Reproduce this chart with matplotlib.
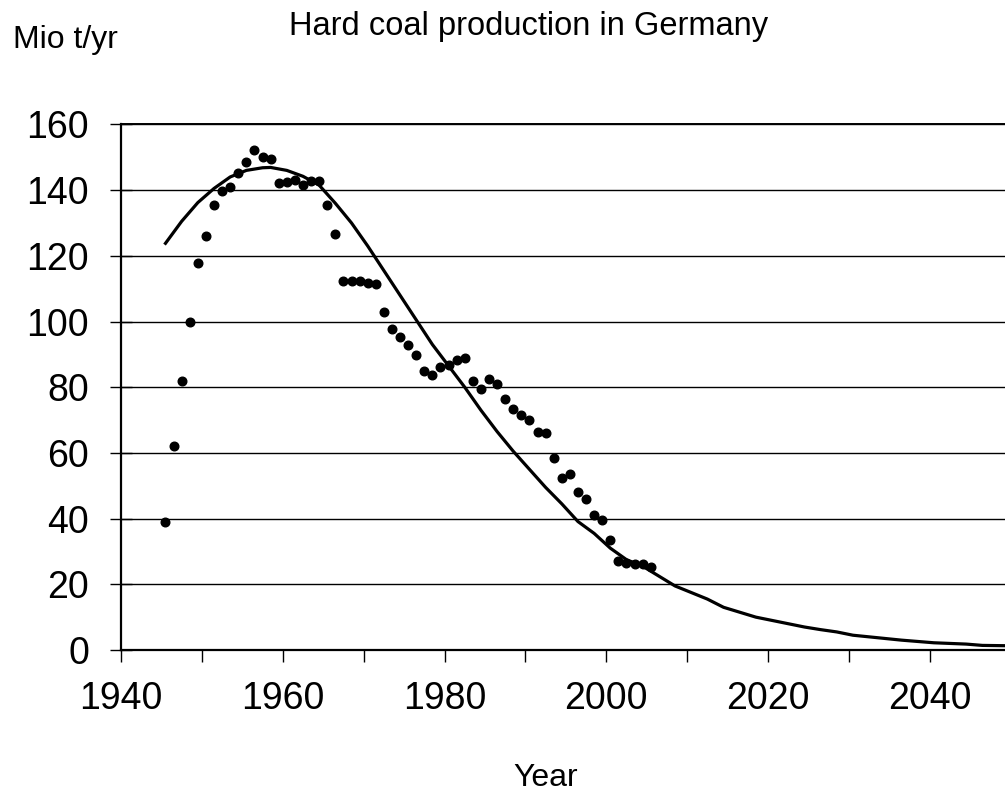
import numpy as np
import matplotlib
matplotlib.use("Agg")
import matplotlib.pyplot as plt

# ── Data ──────────────────────────────────────────────────────────────
YEARS_OBS = list(range(1945, 2006))
PROD_OBS = [
    39.1, 62.0, 81.9, 99.8, 117.7, 126.1, 135.6, 139.6, 141.0, 145.1,
    148.6, 152.1, 150.1, 149.5, 142.1, 142.5, 143.1, 141.6, 142.7, 142.7,
    135.6, 126.6, 112.2, 112.2, 112.2, 111.8, 111.3, 102.9, 97.8, 95.3,
    92.8, 89.8, 84.8, 83.8, 86.3, 86.8, 88.3, 88.8, 81.9, 79.4,
    82.5, 80.9, 76.4, 73.4, 71.4, 69.9, 66.5, 66.0, 58.5, 52.5,
    53.5, 48.0, 46.1, 41.1, 39.6, 33.6, 27.2, 26.4, 26.2, 26.2,
    25.2,
]

YEARS_FIT = [1945, 1947, 1949, 1951, 1953, 1955, 1957, 1958, 1960, 1962,
             1964, 1966, 1968, 1970, 1972, 1974, 1976, 1978, 1980, 1982,
             1984, 1986, 1988, 1990, 1992, 1994, 1996, 1998, 2000, 2002,
             2004, 2006, 2008, 2010, 2012, 2014, 2016, 2018, 2020, 2022,
             2024, 2026, 2028, 2030, 2032, 2034, 2036, 2038, 2040, 2042,
             2044, 2046, 2049]
PROD_FIT = [123.8, 130.5, 136.2, 140.5, 144.0, 146.0, 146.8, 146.9, 146.0, 144.2,
            141.5, 136.0, 130.0, 123.0, 115.5, 108.0, 100.5, 93.0, 86.5, 80.0,
            73.0, 66.5, 60.5, 55.0, 49.5, 44.5, 39.1, 35.5, 31.0, 27.5,
            25.5, 22.5, 19.5, 17.5, 15.5, 13.0, 11.5, 10.0, 9.0, 8.0,
            7.0, 6.2, 5.5, 4.5, 4.0, 3.5, 3.0, 2.6, 2.2, 2.0,
            1.8, 1.4, 1.3]

XTICKS = list(range(1940, 2050, 10))
XLABELS = ["1940", "", "1960", "", "1980", "", "2000", "", "2020", "", "2040"]
YTICKS = list(range(0, 161, 20))

plt.rcParams["font.family"] = ["Liberation Sans", "DejaVu Sans"]

W, H = 1005, 792
fig = plt.figure(figsize=(W / 100, H / 100), dpi=100)
ax = fig.add_axes([121 / W, 1 - 650 / H, (W - 121) / W, (650 - 124.4) / H])

# Excel category axis: each year sits in the middle of its slot
off = 0.5
ax.plot(np.array(YEARS_FIT) + off, PROD_FIT, color="black", lw=2.3,
        zorder=3)
ax.plot(np.array(YEARS_OBS) + off, PROD_OBS, "o", color="black",
        markersize=6.2, zorder=4)

ax.set_xlim(1940, 2049.3)
ax.set_ylim(0, 160)
ax.set_yticks(YTICKS)
ax.set_xticks(XTICKS)
ax.set_xticklabels(XLABELS)
ax.yaxis.grid(True, color="black", lw=1.0)
ax.set_axisbelow(True)

ax.spines["right"].set_visible(False)
ax.spines["top"].set_linewidth(1.4)
ax.spines["left"].set_linewidth(1.6)
ax.spines["bottom"].set_linewidth(1.6)

ax.tick_params(axis="y", direction="inout", length=16, width=1.0,
               labelsize=27, pad=15)
ax.tick_params(axis="x", direction="out", length=8.5, width=1.0,
               labelsize=27, pad=14)

fig.text(529 / W, 1 - 35 / H, "Hard coal production in Germany",
         ha="center", va="baseline", fontsize=23.5)
fig.text(13 / W, 1 - 48 / H, "Mio t/yr", ha="left", va="baseline",
         fontsize=23)
fig.text(546 / W, 1 - 786 / H, "Year", ha="center", va="baseline",
         fontsize=23)

fig.savefig("out.png", dpi=100)
